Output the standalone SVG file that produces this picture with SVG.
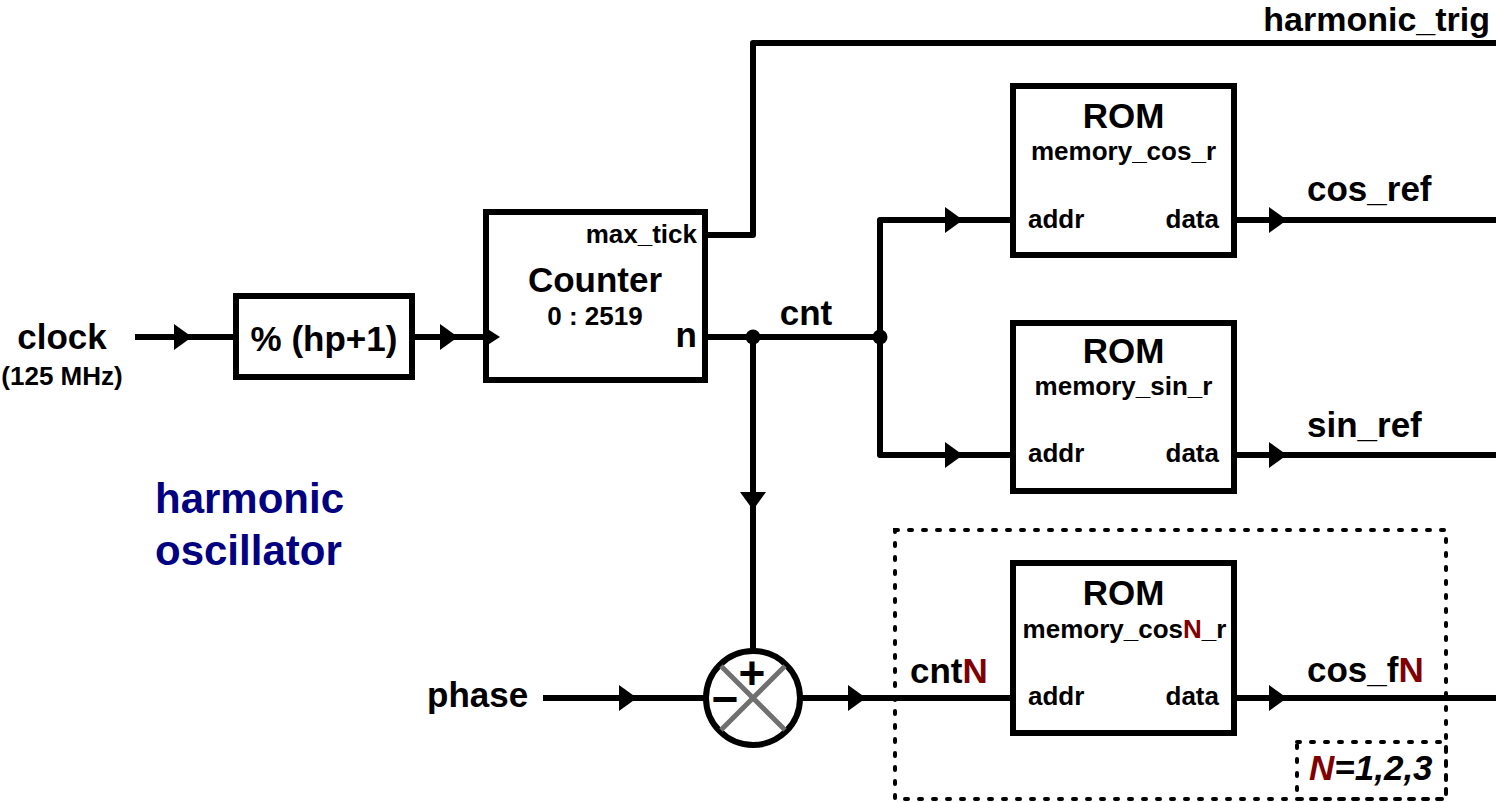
<svg xmlns="http://www.w3.org/2000/svg" xmlns:xlink="http://www.w3.org/1999/xlink" width="1496" height="803" viewBox="0 0 1496 803">
<style>
text{font-family:"Liberation Sans",Arial,sans-serif;font-weight:bold;fill:#000}
.lg{font-size:35px}
.sm{font-size:26px}
.mid{text-anchor:middle}
.end{text-anchor:end}
.red{fill:#800000}
.box{fill:#fff;stroke:#000;stroke-width:6}
.wire{fill:none;stroke:#000;stroke-width:6;stroke-linejoin:round}
.dash{fill:none;stroke:#000;stroke-width:4;stroke-linecap:round;stroke-dasharray:3 11}
.title{font-size:42px;fill:#000080}
</style>
<defs>
<polygon id="arr" points="0,-13 18,0 0,13" fill="#000"/>
</defs>
<rect width="1496" height="803" fill="#fff"/>

<g id="group-box">
<rect class="dash" x="895" y="530" width="551" height="269"/>
<rect class="dash" x="1297" y="742" width="149" height="57"/>
<text class="lg" x="1309" y="780" font-style="italic"><tspan class="red">N</tspan>=1,2,3</text>
</g>

<g id="connectors">
<path class="wire" d="M135,337 H236"/>
<path class="wire" d="M412,337 H486"/>
<path class="wire" d="M705,235 H753 V43 H1496"/>
<path class="wire" d="M705,337 H880"/>
<path class="wire" d="M1013,220 H880 V455 H1013"/>
<path class="wire" d="M753,337 V651"/>
<path class="wire" d="M543,698 H706"/>
<path class="wire" d="M800,698 H1013"/>
<path class="wire" d="M1234,220 H1496"/>
<path class="wire" d="M1234,455 H1496"/>
<path class="wire" d="M1234,698 H1496"/>
<use xlink:href="#arr" x="174" y="337"/>
<use xlink:href="#arr" x="440" y="337"/>
<use xlink:href="#arr" x="945" y="220"/>
<use xlink:href="#arr" x="945" y="455"/>
<use xlink:href="#arr" x="1269" y="220"/>
<use xlink:href="#arr" x="1269" y="455"/>
<use xlink:href="#arr" x="1269" y="698"/>
<use xlink:href="#arr" x="619" y="698"/>
<use xlink:href="#arr" x="848" y="698"/>
<use xlink:href="#arr" transform="translate(753,492) rotate(90)"/>
<circle cx="753" cy="337" r="7.5" fill="#000"/>
<circle cx="880" cy="337" r="7.5" fill="#000"/>
</g>

<g id="clock">
<text class="lg mid" x="62" y="349">clock</text>
<text class="sm mid" x="62" y="385">(125 MHz)</text>
</g>

<g id="modulo">
<rect class="box" x="236" y="296" width="176" height="81"/>
<text class="lg mid" x="324" y="351">% (hp+1)</text>
</g>

<g id="counter">
<rect class="box" x="486" y="212" width="219" height="168"/>
<polygon points="486,328 500,337 486,346" fill="#000"/>
<text class="lg mid" x="595" y="292">Counter</text>
<text class="sm mid" x="595" y="325">0 : 2519</text>
<text class="sm end" x="697" y="243">max_tick</text>
<text class="lg end" x="697" y="347">n</text>
</g>

<g id="labels">
<text class="end" x="1490" y="31" font-size="34">harmonic_trig</text>
<text class="lg mid" x="806" y="325">cnt</text>
<text class="lg" x="1307" y="201">cos_ref</text>
<text class="lg" x="1307" y="437">sin_ref</text>
<text class="lg" x="1307" y="682">cos_f<tspan class="red">N</tspan></text>
<text class="lg" x="910" y="683">cnt<tspan class="red">N</tspan></text>
<text class="lg" x="427" y="707">phase</text>
</g>

<g id="rom-cos">
<rect class="box" x="1013" y="86" width="221" height="169"/>
<text class="lg mid" x="1123.5" y="128">ROM</text>
<text class="sm mid" x="1123.5" y="160">memory_cos_r</text>
<text class="sm" x="1028" y="228">addr</text>
<text class="sm end" x="1219" y="228">data</text>
</g>

<g id="rom-sin">
<rect class="box" x="1013" y="323" width="221" height="168"/>
<text class="lg mid" x="1123.5" y="363">ROM</text>
<text class="sm mid" x="1123.5" y="395">memory_sin_r</text>
<text class="sm" x="1028" y="462">addr</text>
<text class="sm end" x="1219" y="462">data</text>
</g>

<g id="rom-cosN">
<rect class="box" x="1013" y="563" width="221" height="170"/>
<text class="lg mid" x="1123.5" y="605">ROM</text>
<text class="sm mid" x="1124.5" y="638">memory_cos<tspan class="red">N</tspan>_r</text>
<text class="sm" x="1028" y="705">addr</text>
<text class="sm end" x="1219" y="705">data</text>
</g>

<g id="summer">
<circle cx="753" cy="698" r="47" fill="#fff" stroke="#000" stroke-width="6"/>
<path d="M721,666 L785,730 M785,666 L721,730" stroke="#707070" stroke-width="5" fill="none"/>
<text x="752" y="689" text-anchor="middle" font-size="46">+</text>
<text x="725" y="715" text-anchor="middle" font-size="46">−</text>
</g>

<g id="title">
<text class="title" x="155" y="513">harmonic</text>
<text class="title" x="155" y="565">oscillator</text>
</g>
</svg>
